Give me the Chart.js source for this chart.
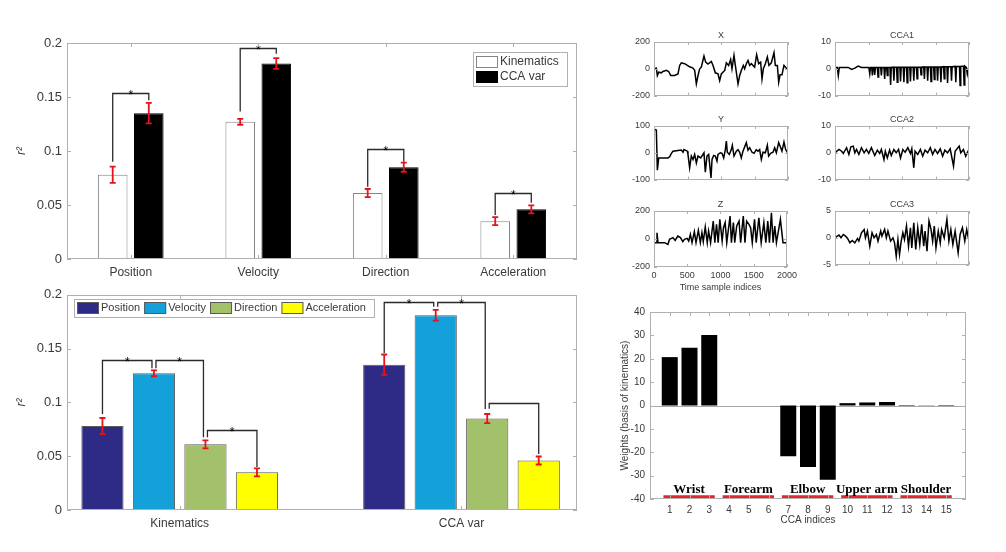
<!DOCTYPE html>
<html>
<head>
<meta charset="utf-8">
<title>Kinematics vs CCA variables</title>
<script src="https://cdn.jsdelivr.net/npm/chart.js@4.4.1/dist/chart.umd.min.js"></script>
<style>
  html, body { margin: 0; padding: 0; background: #fff; }
  #page { position: relative; width: 1006px; height: 552px; overflow: hidden; }
  #page canvas { position: absolute; }
</style>
</head>
<body>
<div id="page"></div>
<script>
// ---- data ----
const measures = ['Position', 'Velocity', 'Direction', 'Acceleration'];
const featureSets = ['Kinematics', 'CCA var'];
const kinR2 = [0.078, 0.127, 0.061, 0.035];
const kinErr = [0.0075, 0.0027, 0.0038, 0.0037];
const ccaR2 = [0.135, 0.181, 0.085, 0.046];
const ccaErr = [0.0095, 0.005, 0.0042, 0.0037];

// significance brackets, top chart: [measure, top, left end, right end]
const pairBrackets = [
    [0, 0.1536, 0.090, 0.147],
    [1, 0.1954, 0.1366, 0.190],
    [2, 0.102, 0.067, 0.090],
    [3, 0.0615, 0.0408, 0.052]
];
// bottom chart: [feature set, from measure, to measure, top, left end, right end, star]
const groupBrackets = [
    [0, 0, 1, 0.1394, 0.0892, 0.1317, true],
    [0, 1, 2, 0.1394, 0.1317, 0.0677, true],
    [0, 2, 3, 0.0748, 0.0677, 0.040, true],
    [1, 0, 1, 0.1932, 0.146, 0.189, true],
    [1, 1, 2, 0.1932, 0.189, 0.0938, true],
    [1, 2, 3, 0.099, 0.094, 0.052, false]
];

// time series panels: [sample index, value]
const timeLabel = 'Time sample indices';
const xTrace = [[0,0],[35,5],[50,-50],[70,-25],[109,-30],[134,-20],[184,-12],[219,-20],[249,-50],[308,-50],[358,-38],[383,25],[408,45],[458,38],[498,25],[532,15],[582,5],[607,-12],[632,-112],[657,-50],[682,0],[706,12],[746,95],[771,50],[806,35],[856,55],[881,25],[915,-30],[955,-38],[980,-88],[1005,-38],[1055,-12],[1080,45],[1114,25],[1144,70],[1164,0],[1194,100],[1214,25],[1254,-112],[1279,-50],[1303,-12],[1333,25],[1353,0],[1378,38],[1403,62],[1428,25],[1453,38],[1502,12],[1532,105],[1562,38],[1592,50],[1612,-75],[1632,0],[1662,38],[1692,88],[1716,25],[1751,45],[1791,120],[1811,25],[1841,25],[1861,-100],[1881,-45],[1910,-45],[1940,25],[1975,5],[2000,-12]];
const yTrace = [[0,88],[35,85],[50,-65],[70,-19],[209,-19],[234,-15],[259,-2],[284,6],[358,9],[408,10],[433,2],[448,12],[498,6],[507,-6],[532,-56],[557,-12],[582,-25],[607,-6],[632,-38],[657,-12],[697,-19],[746,0],[766,-72],[791,-12],[816,-6],[851,-94],[866,-25],[891,-10],[915,-12],[940,-31],[955,-6],[990,0],[1015,-2],[1040,-19],[1065,12],[1080,44],[1094,2],[1124,-6],[1154,12],[1169,28],[1194,-12],[1229,6],[1254,12],[1279,2],[1303,-19],[1328,6],[1378,38],[1403,10],[1428,19],[1463,2],[1493,-2],[1527,12],[1552,6],[1577,12],[1602,-25],[1627,2],[1662,0],[1692,28],[1711,-12],[1741,-2],[1776,2],[1801,19],[1826,0],[1861,38],[1891,19],[1910,6],[1940,40],[1965,12],[2000,-2]];
const zTrace = [[0,-26],[35,-26],[45,45],[60,-26],[159,-26],[209,-38],[234,-2],[284,10],[318,-10],[358,21],[398,10],[433,-19],[458,-2],[498,5],[522,-14],[547,33],[572,-26],[607,52],[632,-26],[667,62],[697,-26],[721,45],[741,-19],[771,86],[801,-26],[821,57],[851,-26],[891,128],[915,-26],[940,105],[965,-26],[990,140],[1025,-14],[1045,81],[1070,117],[1094,-26],[1144,164],[1164,-26],[1194,117],[1214,-26],[1244,93],[1279,128],[1303,-26],[1343,164],[1368,-26],[1393,128],[1428,105],[1453,81],[1478,-26],[1512,140],[1537,-26],[1577,152],[1612,-26],[1652,117],[1682,-26],[1711,128],[1736,-26],[1766,188],[1791,-26],[1816,93],[1841,-26],[1901,140],[1940,-26],[2000,-26]];
const cca1Trace = [[0,0.5],[35,0.5],[49,-2.5],[64,0.5],[198,0.5],[247,-0.25],[296,0.25],[346,1],[395,0.5],[505,0.5],[519,-1.9],[530,0.5],[548,0.5],[558,-2.5],[568,0.5],[583,0.5],[593,-2.25],[603,0.5],[632,0.5],[642,-3.1],[652,0.5],[682,0.5],[692,-2.5],[702,0.5],[731,0.5],[741,-3.75],[751,0.5],[771,0.5],[781,-2.5],[791,0.5],[820,0.5],[830,-6],[840,0.5],[869,0.6],[879,-4.4],[889,0.6],[919,0.6],[929,-5],[939,0.6],[968,0.6],[978,-4.75],[988,0.6],[1018,0.6],[1028,-5],[1038,0.6],[1067,0.6],[1077,-5.25],[1087,0.6],[1116,0.6],[1126,-4.75],[1136,0.6],[1166,0.6],[1176,-4.4],[1186,0.6],[1215,0.6],[1225,-3.75],[1235,0.6],[1274,0.6],[1284,-2.25],[1294,0.6],[1324,0.7],[1334,-3.75],[1344,0.7],[1373,0.7],[1383,-4.4],[1393,0.7],[1423,0.7],[1433,-4.75],[1443,0.7],[1472,0.7],[1482,-4],[1492,0.7],[1521,0.7],[1531,-4.4],[1541,0.7],[1571,0.7],[1581,-5],[1591,0.7],[1620,0.8],[1630,-3.75],[1640,0.8],[1670,0.8],[1680,-5.25],[1690,0.8],[1729,0.8],[1739,-4.4],[1749,0.8],[1793,0.9],[1803,-5],[1813,0.9],[1857,0.9],[1867,-6.25],[1877,0.9],[1917,1],[1927,-6],[1937,1],[1960,0.5],[1975,-2],[2000,1]];
const cca2Trace = [[0,0],[10,0.25],[59,1.25],[99,0.6],[124,-0.25],[173,1.9],[207,-0.6],[237,2.25],[272,2.5],[296,0],[321,1.25],[356,-0.6],[395,1.9],[435,0],[469,1.25],[504,-0.25],[543,1.9],[593,-1],[632,1],[667,-0.25],[692,1.25],[731,-2.5],[751,0.6],[781,-1.9],[815,1],[840,-1],[879,1.25],[914,0],[948,1.25],[978,-1.9],[1013,1.25],[1047,0.25],[1087,1.9],[1126,-0.25],[1146,1.5],[1176,-5.6],[1195,0.6],[1235,-0.6],[1275,1.25],[1309,-1.25],[1344,1],[1383,0],[1423,1.9],[1457,-0.6],[1492,1.25],[1531,-0.25],[1571,1.5],[1606,-1.25],[1640,1],[1680,0],[1719,1.5],[1769,-5],[1793,0.6],[1853,2.5],[1877,0],[1917,1.25],[1951,-1.25],[1986,0.6],[2000,-0.5]];
const cca3Trace = [[0,0],[10,0.12],[59,0.5],[89,0],[124,0.62],[158,0.31],[188,-0.12],[222,-0.94],[257,-0.5],[296,-0.94],[336,-0.12],[356,-0.62],[395,0.94],[435,1.56],[454,0],[484,1.25],[519,-1.56],[553,0.94],[583,0],[618,0.62],[642,-0.62],[682,1.25],[701,0.31],[741,1.56],[766,0],[790,1.25],[830,-0.62],[865,0],[889,-0.94],[914,-3.44],[939,-0.31],[963,-3.12],[988,-0.62],[1013,0.94],[1037,-0.31],[1067,2.19],[1097,-1.56],[1126,1.88],[1146,-1.88],[1176,2.81],[1205,-2.19],[1235,1.88],[1265,-1.25],[1294,2.5],[1324,-1.56],[1344,1.25],[1373,-2.5],[1403,3.12],[1433,1.56],[1457,-0.62],[1482,2.19],[1507,-1.88],[1541,1.25],[1571,-0.94],[1591,1.56],[1630,0],[1670,3.44],[1700,-0.62],[1729,1.56],[1759,-1.25],[1793,1.25],[1838,-2.81],[1867,0.62],[1902,1.88],[1937,-0.62],[1966,1.56],[2000,-0.62]];

// CCA weights
const ccaIndices = [1, 2, 3, 4, 5, 6, 7, 8, 9, 10, 11, 12, 13, 14, 15];
const ccaWeights = [20.7, 24.7, 30.2, 0, 0, 0, -21.7, -26.3, -31.8, 1.0, 1.3, 1.5, 0.2, 0.1, 0.2];
const bodyParts = ['Wrist', 'Forearm', 'Elbow', 'Upper arm', 'Shoulder'];
const partFirst = [1, 4, 7, 10, 13];
const partLast = [3, 6, 9, 12, 15];

// ---- styles ----
const FONT = "'Liberation Sans', Arial, Helvetica, sans-serif";
const TEXT = '#3a3a3a';
const FRAME = '#b0b0b0';
const measureColors = ['#2e2b86', '#14a0d8', '#a3c16b', '#ffff00'];

Chart.defaults.font.family = FONT;
Chart.defaults.font.size = 12;
Chart.defaults.color = TEXT;

function makeCanvas(box) {
    const c = document.createElement('canvas');
    c.width = box.w;
    c.height = box.h;
    c.style.left = box.x + 'px';
    c.style.top = box.y + 'px';
    c.style.width = box.w + 'px';
    c.style.height = box.h + 'px';
    document.getElementById('page').appendChild(c);
    return c;
}

// box = canvas rectangle on the page, plot = wanted chart area on the page
function frameLayout(box, plot) {
    return {
        padding: { top: plot.top - box.y, right: box.x + box.w - plot.right, left: 0, bottom: 0 },
        yWidth: plot.left - box.x,
        xHeight: box.y + box.h - plot.bottom
    };
}

function fmt(v) {
    return String(+Number(v).toFixed(3));
}

// frame box with inward ticks (MATLAB style), optional title and zero line
const axesFramePlugin = {
    id: 'axesFrame',
    beforeDatasetsDraw(chart, args, opts) {
        if (!opts.zeroLine) return;
        const { ctx, chartArea: a, scales } = chart;
        const y = Math.round(scales.y.getPixelForValue(0)) + 0.5;
        ctx.save();
        ctx.strokeStyle = '#a8a8a8';
        ctx.lineWidth = 1;
        ctx.beginPath();
        ctx.moveTo(a.left, y);
        ctx.lineTo(a.right, y);
        ctx.stroke();
        ctx.restore();
    },
    afterDraw(chart, args, opts) {
        const { ctx, chartArea: a, scales } = chart;
        const len = opts.tickLen || 4;
        ctx.save();
        ctx.strokeStyle = FRAME;
        ctx.lineWidth = 1;
        ctx.strokeRect(Math.round(a.left) + 0.5, Math.round(a.top) + 0.5,
            Math.round(a.right - a.left) - 1, Math.round(a.bottom - a.top) - 1);
        ctx.beginPath();
        scales.y.ticks.forEach((t, i) => {
            const y = Math.round(scales.y.getPixelForTick(i)) + 0.5;
            ctx.moveTo(a.left, y); ctx.lineTo(a.left + len, y);
            ctx.moveTo(a.right, y); ctx.lineTo(a.right - len, y);
        });
        scales.x.ticks.forEach((t, i) => {
            const x = Math.round(scales.x.getPixelForTick(i)) + 0.5;
            ctx.moveTo(x, a.bottom); ctx.lineTo(x, a.bottom - len);
            ctx.moveTo(x, a.top); ctx.lineTo(x, a.top + len);
        });
        ctx.stroke();
        if (opts.title) {
            ctx.fillStyle = TEXT;
            ctx.font = `9px ${FONT}`;
            ctx.textAlign = 'center';
            ctx.textBaseline = 'bottom';
            ctx.fillText(opts.title, (a.left + a.right) / 2, a.top - 2);
        }
        ctx.restore();
    }
};

// red error bars around each bar
const errorBarPlugin = {
    id: 'errorBars',
    afterDatasetsDraw(chart, args, opts) {
        const { ctx } = chart;
        const ys = chart.scales.y;
        ctx.save();
        ctx.strokeStyle = '#e3141b';
        ctx.lineWidth = 1.8;
        chart.data.datasets.forEach((ds, di) => {
            const meta = chart.getDatasetMeta(di);
            meta.data.forEach((bar, i) => {
                const v = meta.controller.getParsed(i).y;
                const e = opts.errors[di][i];
                const y1 = ys.getPixelForValue(v - e);
                const y2 = ys.getPixelForValue(v + e);
                ctx.beginPath();
                ctx.moveTo(bar.x, y1); ctx.lineTo(bar.x, y2);
                ctx.moveTo(bar.x - 3, y1); ctx.lineTo(bar.x + 3, y1);
                ctx.moveTo(bar.x - 3, y2); ctx.lineTo(bar.x + 3, y2);
                ctx.stroke();
            });
        });
        ctx.restore();
    }
};

// significance brackets: [ds1, idx1, ds2, idx2, top, end1, end2, star]
const bracketPlugin = {
    id: 'brackets',
    afterDatasetsDraw(chart, args, opts) {
        const items = opts.items || [];
        const { ctx } = chart;
        const ys = chart.scales.y;
        const key = (d, i) => d + ':' + i;
        const starts = items.map(b => key(b[0], b[1]));
        const ends = items.map(b => key(b[2], b[3]));
        ctx.save();
        ctx.strokeStyle = '#2a2a2a';
        ctx.lineWidth = 1.3;
        ctx.fillStyle = '#000';
        ctx.font = `12px ${FONT}`;
        ctx.textAlign = 'center';
        ctx.textBaseline = 'alphabetic';
        items.forEach(([d1, i1, d2, i2, top, end1, end2, star]) => {
            let x1 = chart.getDatasetMeta(d1).data[i1].x;
            let x2 = chart.getDatasetMeta(d2).data[i2].x;
            if (ends.includes(key(d1, i1))) x1 += 2;
            if (starts.includes(key(d2, i2))) x2 -= 2;
            const yt = Math.round(ys.getPixelForValue(top)) + 0.5;
            ctx.beginPath();
            ctx.moveTo(x1, ys.getPixelForValue(end1));
            ctx.lineTo(x1, yt);
            ctx.lineTo(x2, yt);
            ctx.lineTo(x2, ys.getPixelForValue(end2));
            ctx.stroke();
            if (star) ctx.fillText('*', (x1 + x2) / 2, yt + 5);
        });
        ctx.restore();
    }
};

// MATLAB-like boxed legend inside the axes
const boxLegendPlugin = {
    id: 'boxLegend',
    afterDraw(chart, args, opts) {
        const { ctx } = chart;
        const b = opts.box;
        ctx.save();
        ctx.fillStyle = '#fff';
        ctx.fillRect(b.x, b.y, b.w, b.h);
        ctx.strokeStyle = FRAME;
        ctx.lineWidth = 1;
        ctx.strokeRect(b.x + 0.5, b.y + 0.5, b.w, b.h);
        ctx.font = `${opts.fontSize}px ${FONT}`;
        ctx.textBaseline = 'middle';
        let x = b.x + 3;
        let y = b.y + opts.first;
        chart.data.datasets.forEach(ds => {
            ctx.fillStyle = ds.backgroundColor;
            ctx.fillRect(x, y - 6, 22, 12);
            ctx.strokeStyle = ds.borderColor;
            ctx.strokeRect(x + 0.5, y - 5.5, 21, 11);
            ctx.fillStyle = TEXT;
            ctx.fillText(ds.label, x + 24, y);
            if (opts.horizontal) x += 24 + ctx.measureText(ds.label).width + 4;
            else y += opts.step;
        });
        ctx.restore();
    }
};

// body part labels with red underlines
const bodyPartPlugin = {
    id: 'bodyParts',
    afterDatasetsDraw(chart) {
        const { ctx } = chart;
        const { x: xs, y: ys } = chart.scales;
        ctx.save();
        ctx.font = `bold 13px 'Liberation Serif', 'Times New Roman', serif`;
        ctx.textAlign = 'center';
        ctx.textBaseline = 'alphabetic';
        bodyParts.forEach((name, i) => {
            const x0 = xs.getPixelForValue(partFirst[i] - 0.32);
            const x1 = xs.getPixelForValue(partLast[i] + 0.28);
            const yl = ys.getPixelForValue(-39);
            ctx.strokeStyle = '#e8232a';
            ctx.lineWidth = 3;
            ctx.beginPath();
            ctx.moveTo(x0, yl);
            ctx.lineTo(x1, yl);
            ctx.stroke();
            ctx.fillStyle = '#000';
            ctx.fillText(name, (x0 + x1) / 2, ys.getPixelForValue(-37.6));
        });
        ctx.restore();
    }
};

function baseOptions(fl) {
    return {
        responsive: false,
        animation: false,
        events: [],
        layout: { padding: fl.padding }
    };
}

const r2Title = { display: true, text: 'r²', font: { style: 'italic', size: 12 }, padding: { top: 14, bottom: 0 } };

// ---- (1) r2 per measure, Kinematics vs CCA var ----
function drawPairChart() {
    const box = { x: 0, y: 30, w: 600, h: 255 };
    const fl = frameLayout(box, { left: 67, top: 43, right: 577, bottom: 259 });
    new Chart(makeCanvas(box), {
        type: 'bar',
        data: {
            labels: measures,
            datasets: [{
                label: featureSets[0],
                data: kinR2,
                backgroundColor: '#ffffff',
                borderColor: '#858585',
                borderWidth: 1,
                categoryPercentage: 0.566,
                barPercentage: 0.82
            }, {
                label: featureSets[1],
                data: ccaR2,
                backgroundColor: '#000000',
                borderColor: '#000000',
                borderWidth: 1,
                categoryPercentage: 0.566,
                barPercentage: 0.82
            }]
        },
        options: {
            ...baseOptions(fl),
            plugins: {
                legend: { display: false },
                tooltip: { enabled: false },
                axesFrame: { tickLen: 4 },
                errorBars: { errors: [kinErr, ccaErr] },
                brackets: { items: pairBrackets.map(([m, top, e1, e2]) => [0, m, 1, m, top, e1, e2, true]) },
                boxLegend: { box: { x: 473, y: 22, w: 94, h: 34 }, first: 10, step: 15, fontSize: 12 }
            },
            scales: {
                x: {
                    grid: { display: false, drawTicks: false },
                    border: { display: false },
                    ticks: { padding: 6, font: { size: 12 } },
                    afterFit: s => { s.height = fl.xHeight; }
                },
                y: {
                    min: 0, max: 0.2,
                    grid: { display: false, drawTicks: false },
                    border: { display: false },
                    ticks: { stepSize: 0.05, padding: 5, font: { size: 13 }, callback: v => fmt(v) },
                    title: r2Title,
                    afterFit: s => { s.width = fl.yWidth; }
                }
            }
        },
        plugins: [axesFramePlugin, errorBarPlugin, bracketPlugin, boxLegendPlugin]
    });
}

// ---- (2) r2 per feature set, all measures ----
function drawGroupChart() {
    const box = { x: 0, y: 282, w: 600, h: 250 };
    const fl = frameLayout(box, { left: 67, top: 293, right: 577, bottom: 510 });
    new Chart(makeCanvas(box), {
        type: 'bar',
        data: {
            datasets: measures.map((m, i) => ({
                label: m,
                data: featureSets.map((f, k) => ({ x: k + 1, y: k === 0 ? kinR2[i] : ccaR2[i] })),
                backgroundColor: measureColors[i],
                borderColor: '#5a5a5a',
                borderWidth: 1,
                categoryPercentage: 0.731,
                barPercentage: 0.82
            }))
        },
        options: {
            ...baseOptions(fl),
            plugins: {
                legend: { display: false },
                tooltip: { enabled: false },
                axesFrame: { tickLen: 4 },
                errorBars: { errors: measures.map((m, i) => [kinErr[i], ccaErr[i]]) },
                brackets: { items: groupBrackets.map(([s, a, b, top, e1, e2, star]) => [a, s, b, s, top, e1, e2, star]) },
                boxLegend: { box: { x: 74, y: 17, w: 300, h: 18 }, first: 9, horizontal: true, fontSize: 11 }
            },
            scales: {
                x: {
                    type: 'linear', min: 0.6, max: 2.41, offset: false,
                    grid: { display: false, drawTicks: false, offset: false },
                    border: { display: false },
                    afterBuildTicks: s => { s.ticks = featureSets.map((f, k) => ({ value: k + 1 })); },
                    ticks: { padding: 6, font: { size: 12 }, maxRotation: 0, autoSkip: false, callback: v => featureSets[v - 1] },
                    afterFit: s => { s.height = fl.xHeight; }
                },
                y: {
                    min: 0, max: 0.2,
                    grid: { display: false, drawTicks: false },
                    border: { display: false },
                    ticks: { stepSize: 0.05, padding: 5, font: { size: 13 }, callback: v => fmt(v) },
                    title: r2Title,
                    afterFit: s => { s.width = fl.yWidth; }
                }
            }
        },
        plugins: [axesFramePlugin, errorBarPlugin, bracketPlugin, boxLegendPlugin]
    });
}

// ---- (3) small time series panels ----
function drawPanel(box, plot, trace, yMax, title, showX) {
    const fl = frameLayout(box, plot);
    new Chart(makeCanvas(box), {
        type: 'line',
        data: {
            datasets: [{
                data: trace.map(([t, v]) => ({ x: t, y: v })),
                borderColor: '#000',
                borderWidth: 1.5,
                pointRadius: 0,
                tension: 0
            }]
        },
        options: {
            ...baseOptions(fl),
            plugins: {
                legend: { display: false },
                tooltip: { enabled: false },
                axesFrame: { tickLen: 3, title: title }
            },
            scales: {
                x: {
                    type: 'linear', min: 0, max: 2000, offset: false,
                    grid: { display: false, drawTicks: false },
                    border: { display: false },
                    ticks: { display: showX, stepSize: 500, font: { size: 9 }, padding: 3, maxRotation: 0, callback: v => String(v) },
                    title: { display: showX, text: timeLabel, font: { size: 9 }, padding: { top: 0, bottom: 6 } },
                    afterFit: s => { s.height = fl.xHeight; }
                },
                y: {
                    min: -yMax, max: yMax,
                    grid: { display: false, drawTicks: false },
                    border: { display: false },
                    ticks: { stepSize: yMax, font: { size: 9 }, padding: 4, callback: v => String(v) },
                    afterFit: s => { s.width = fl.yWidth; }
                }
            }
        },
        plugins: [axesFramePlugin]
    });
}

// ---- (4) CCA weights ----
function drawWeightChart() {
    const box = { x: 598, y: 300, w: 388, h: 235 };
    const fl = frameLayout(box, { left: 650, top: 312, right: 966, bottom: 499 });
    new Chart(makeCanvas(box), {
        type: 'bar',
        data: {
            datasets: [{
                data: ccaIndices.map((k, i) => ({ x: k, y: ccaWeights[i] })),
                backgroundColor: '#000',
                borderWidth: 0,
                categoryPercentage: 1,
                barPercentage: 0.81
            }]
        },
        options: {
            ...baseOptions(fl),
            plugins: {
                legend: { display: false },
                tooltip: { enabled: false },
                axesFrame: { tickLen: 4, zeroLine: true }
            },
            scales: {
                x: {
                    type: 'linear', min: 0, max: 16, offset: false,
                    grid: { display: false, drawTicks: false, offset: false },
                    border: { display: false },
                    afterBuildTicks: s => { s.ticks = ccaIndices.map(v => ({ value: v })); },
                    ticks: { font: { size: 10 }, padding: 5, maxRotation: 0, autoSkip: false, callback: v => String(v) },
                    title: { display: true, text: 'CCA indices', font: { size: 10 }, padding: { top: 0, bottom: 9 } },
                    afterFit: s => { s.height = fl.xHeight; }
                },
                y: {
                    min: -40, max: 40,
                    grid: { display: false, drawTicks: false },
                    border: { display: false },
                    ticks: { stepSize: 10, font: { size: 10 }, padding: 5 },
                    title: { display: true, text: 'Weights (basis of kinematics)', font: { size: 10 }, padding: { top: 21, bottom: 0 } },
                    afterFit: s => { s.width = fl.yWidth; }
                }
            }
        },
        plugins: [axesFramePlugin, bodyPartPlugin]
    });
}

drawPairChart();
drawGroupChart();

const leftBox = (y) => ({ x: 618, y: y, w: 182, h: 75 });
const rightBox = (y) => ({ x: 800, y: y, w: 181, h: 75 });
drawPanel(leftBox(30), { left: 654, top: 42, right: 788, bottom: 97 }, xTrace, 200, 'X', false);
drawPanel(leftBox(114), { left: 654, top: 126, right: 788, bottom: 181 }, yTrace, 100, 'Y', false);
drawPanel({ x: 618, y: 199, w: 182, h: 100 }, { left: 654, top: 211, right: 788, bottom: 267 }, zTrace, 200, 'Z', true);
drawPanel(rightBox(30), { left: 835, top: 42, right: 969, bottom: 97 }, cca1Trace, 10, 'CCA1', false);
drawPanel(rightBox(114), { left: 835, top: 126, right: 969, bottom: 181 }, cca2Trace, 10, 'CCA2', false);
drawPanel(rightBox(199), { left: 835, top: 211, right: 969, bottom: 267 }, cca3Trace, 5, 'CCA3', false);

drawWeightChart();
</script>
</body>
</html>
